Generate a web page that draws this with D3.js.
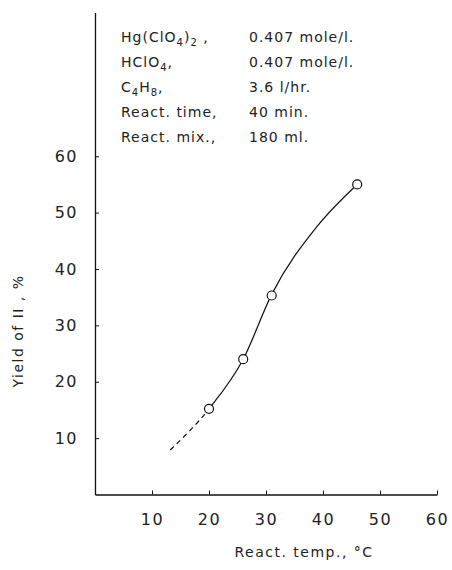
<!DOCTYPE html>
<html>
<head>
<meta charset="utf-8">
<script src="https://cdn.jsdelivr.net/npm/d3@7"></script>
<style>
  body { margin: 0; background: #fff; }
  svg { display: block; }
  text { font-family: "DejaVu Sans", sans-serif; fill: #222; }
</style>
</head>
<body>
<div id="plot"></div>
<script>
// measured points
const pointTemp = [20, 26, 31, 46];
const pointYield = [15.2, 24, 35.3, 55];

// hand-drawn curve (first knot is the dashed extrapolation)
const curveTemp = [13.2, 20, 26, 31, 39, 46];
const curveYield = [7.9, 15.2, 24, 35.5, 47.6, 55];

const xTicks = [10, 20, 30, 40, 50, 60];
const yTicks = [10, 20, 30, 40, 50, 60];

// conditions block
const condNames = ['Hg(ClO4)2 ,', 'HClO4,', 'C4H8,', 'React. time,', 'React. mix.,'];
const condValues = ['0.407 mole/l.', '0.407 mole/l.', '3.6 l/hr.', '40 min.', '180 ml.'];

const width = 452;
const height = 570;

const svg = d3.select('#plot')
  .append('svg')
  .attr('width', width)
  .attr('height', height);

const x = d3.scaleLinear().domain([0, 60]).range([95, 437]);
const y = d3.scaleLinear().domain([0, 85.5]).range([494.5, 12.5]);

// axes, ticks pointing inward
const xAxis = d3.axisBottom(x)
  .tickValues(xTicks)
  .tickSizeInner(-4)
  .tickSizeOuter(0)
  .tickPadding(19);

const yAxis = d3.axisLeft(y)
  .tickValues(yTicks)
  .tickSizeInner(-4)
  .tickSizeOuter(0)
  .tickPadding(17);

const gx = svg.append('g')
  .attr('transform', `translate(0,${y(0)})`)
  .call(xAxis);

const gy = svg.append('g')
  .attr('transform', `translate(${x(0)},0)`)
  .call(yAxis);

[gx, gy].forEach(g => {
  g.select('.domain').attr('stroke', '#111').attr('stroke-width', 1.3);
  g.selectAll('.tick line').attr('stroke', '#111').attr('stroke-width', 1);
  g.selectAll('.tick text')
    .attr('fill', '#222')
    .style('font-family', '"DejaVu Sans", sans-serif')
    .style('font-size', '16px')
    .style('letter-spacing', '1.5px');
});

// axis titles
svg.append('text')
  .attr('x', 304)
  .attr('y', 557)
  .attr('text-anchor', 'middle')
  .style('font-size', '14px')
  .style('letter-spacing', '1.5px')
  .text('React.  temp.,  °C');

svg.append('text')
  .attr('transform', `translate(23,331)rotate(-90)`)
  .attr('text-anchor', 'middle')
  .style('font-size', '14px')
  .style('letter-spacing', '1.5px')
  .text('Yield of II ,  %');

// curve: dashed below 20 °C, solid from there on
const curveData = curveTemp.map((t, i) => ({ t: t, v: curveYield[i] }));
const line = d3.line()
  .x(d => x(d.t))
  .y(d => y(d.v))
  .curve(d3.curveMonotoneX);

const defs = svg.append('defs');
defs.append('clipPath').attr('id', 'clipDash')
  .append('rect')
  .attr('x', 0).attr('y', 0)
  .attr('width', x(pointTemp[0])).attr('height', height);
defs.append('clipPath').attr('id', 'clipSolid')
  .append('rect')
  .attr('x', x(pointTemp[0])).attr('y', 0)
  .attr('width', width).attr('height', height);

svg.append('path')
  .datum(curveData)
  .attr('d', line)
  .attr('clip-path', 'url(#clipDash)')
  .attr('fill', 'none')
  .attr('stroke', '#111')
  .attr('stroke-width', 1.2)
  .attr('stroke-dasharray', '5,4');

svg.append('path')
  .datum(curveData)
  .attr('d', line)
  .attr('clip-path', 'url(#clipSolid)')
  .attr('fill', 'none')
  .attr('stroke', '#111')
  .attr('stroke-width', 1.2);

// open circles
svg.append('g')
  .selectAll('circle')
  .data(pointTemp.map((t, i) => ({ t: t, v: pointYield[i] })))
  .join('circle')
  .attr('cx', d => x(d.t))
  .attr('cy', d => y(d.v))
  .attr('r', 4.5)
  .attr('fill', '#fff')
  .attr('stroke', '#111')
  .attr('stroke-width', 1.2);

// conditions text, with subscripts
const cond = svg.append('g')
  .style('font-size', '14px')
  .style('letter-spacing', '1px');

const writeFormula = (el, s) => {
  // digits that follow a letter or ')' are subscripts
  const parts = s.split(/(?<=[A-Za-z)])(\d)/).filter(p => p !== '');
  let shift = 0;
  parts.forEach(p => {
    const sub = /^\d$/.test(p);
    const target = sub ? 4 : 0;
    el.append('tspan')
      .attr('dy', target - shift)
      .style('font-size', sub ? '10px' : null)
      .text(p);
    shift = target;
  });
};

condNames.forEach((name, i) => {
  const yy = 41.5 + i * 25;
  const t = cond.append('text').attr('x', 121).attr('y', yy);
  if (i < 3) {
    writeFormula(t, name);
  } else {
    t.text(name);
  }
  cond.append('text')
    .attr('x', 249)
    .attr('y', yy)
    .text(condValues[i]);
});
</script>
</body>
</html>
